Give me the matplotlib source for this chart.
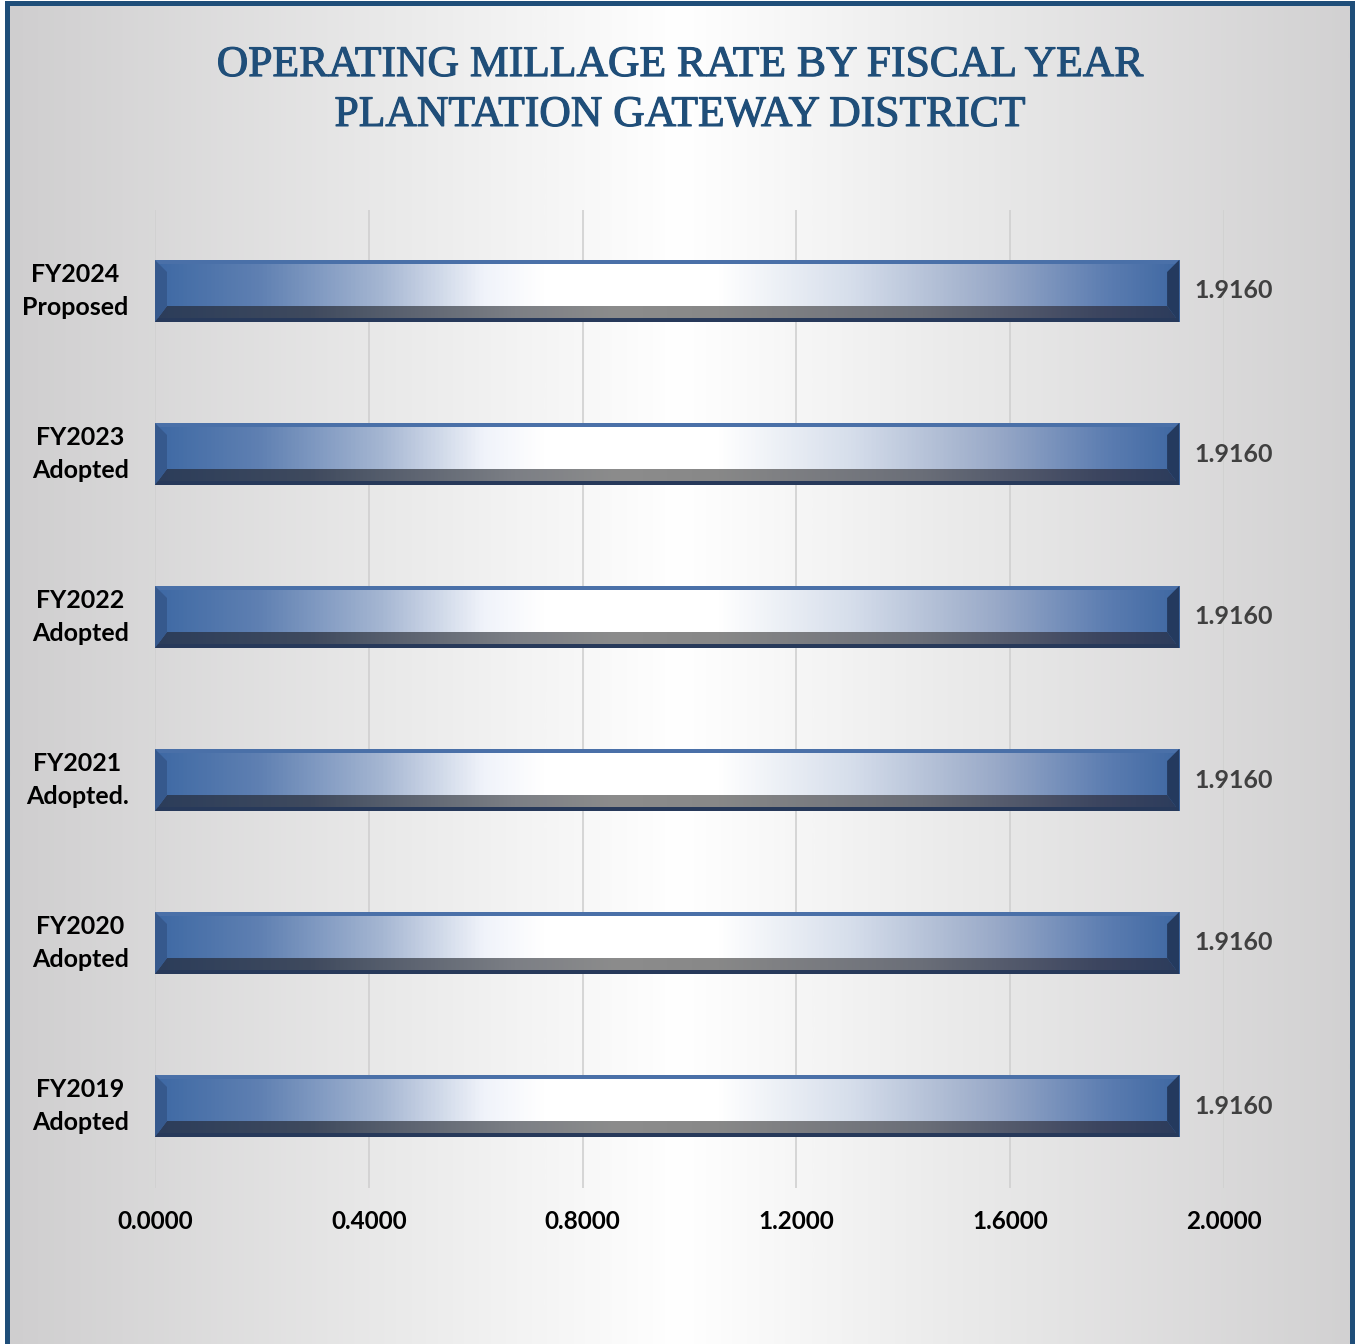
import matplotlib
matplotlib.use("Agg")
import matplotlib.pyplot as plt
import matplotlib.patheffects as pe
import numpy as np
from matplotlib.colors import LinearSegmentedColormap
from matplotlib.patches import Rectangle, Polygon

# data
years = ["FY2019\nAdopted", "FY2020\nAdopted", "FY2021\nAdopted.",
         "FY2022\nAdopted", "FY2023\nAdopted", "FY2024\nProposed"]
rates = [1.9160, 1.9160, 1.9160, 1.9160, 1.9160, 1.9160]
x_ticks = [0.0, 0.4, 0.8, 1.2, 1.6, 2.0]

title = "OPERATING MILLAGE RATE BY FISCAL YEAR\nPLANTATION GATEWAY DISTRICT"
navy = "#1f4e79"
label_font = "Lato"

W, H = 1357, 1344
fig = plt.figure(figsize=(W / 100, H / 100), dpi=100)
fig.patch.set_facecolor("white")

# background with horizontal gray->white->gray gradient
bg = fig.add_axes([0, 0, 1, 1], zorder=-10)
bg_cmap = LinearSegmentedColormap.from_list(
    "bg", [(0, "#cfcecf"), (0.3, "#ebebeb"), (0.5, "#ffffff"),
           (0.7, "#ebebeb"), (1, "#d2d1d2")])
bg.imshow(np.linspace(0, 1, 512)[None, :], cmap=bg_cmap, aspect="auto",
          extent=[7 / W, 1352 / W, 0, 1 - 3 / H])
bg.set_xlim(0, 1)
bg.set_ylim(0, 1)
bg.axis("off")
bg.add_patch(Rectangle((7 / W, -0.01), (1352 - 7) / W, 1.01 - 3 / H,
                       fill=False, edgecolor=navy, linewidth=3.6))

ax = fig.add_axes([155 / W, 1 - 1187.5 / H, (1224 - 155) / W, (1187.5 - 209.5) / H])
ax.patch.set_alpha(0)
ax.set_xlim(0, 2.0)
ax.set_ylim(-0.5, len(years) - 0.5)
for s in ax.spines.values():
    s.set_visible(False)
ax.set_xticks(x_ticks)
ax.set_xticklabels([f"{t:.4f}" for t in x_ticks])
ax.set_yticks(range(len(years)))
ax.set_yticklabels(years, multialignment="center", linespacing=1.5, va="center")
ax.tick_params(axis="both", length=0)
ax.tick_params(axis="x", pad=16)
ax.tick_params(axis="y", pad=19)
for lbl in ax.get_xticklabels():
    lbl.set_fontsize(17.5)
for lbl in ax.get_yticklabels():
    lbl.set_fontsize(18)
for lbl in ax.get_xticklabels() + ax.get_yticklabels():
    lbl.set_fontfamily(label_font)
    lbl.set_fontweight("bold")
    lbl.set_color("black")
for t in x_ticks:
    ax.axvline(t, color="#d0d0d0", linewidth=1.2, zorder=0)

face_cmap = LinearSegmentedColormap.from_list(
    "face", [(0, "#3e69a4"), (0.1, "#5f80b2"), (0.22, "#a5b6d2"), (0.32, "#f0f3fa"),
             (0.38, "#ffffff"), (0.55, "#ffffff"), (0.68, "#d6deeb"),
             (0.82, "#9aaac8"), (0.93, "#5c7db1"), (1, "#3f68a2")])
shade_cmap = LinearSegmentedColormap.from_list(
    "shade", [(0, "#2c3d5a"), (0.15, "#3f4a5e"), (0.35, "#7c7f85"), (0.45, "#8c8c8c"),
              (0.55, "#888888"), (0.75, "#6a6e78"), (0.92, "#3d4660"), (1, "#2c3c5c")])

h = 0.38
bx = 12 / 534.5          # bevel width in data units (x)
by = 12 / 163            # bevel width in data units (y)
edge = 4 / 163
grad = np.linspace(0, 1, 512)[None, :]

bars = ax.barh(range(len(years)), rates, height=h, color="none", zorder=2)
for i, (bar, v) in enumerate(zip(bars, rates)):
    y0, y1 = i - h / 2, i + h / 2
    # front face
    im = ax.imshow(grad, cmap=face_cmap, aspect="auto", extent=[0, v, y0, y1], zorder=2)
    im.set_clip_path(bar)
    # top edge
    ax.add_patch(Rectangle((0, y1 - edge), v, edge, color="#4a70a8", zorder=3, lw=0))
    # bottom bevel
    bot = Polygon([(0, y0), (v, y0), (v - bx, y0 + by + edge), (bx, y0 + by + edge)],
                  closed=True, color="none", zorder=3)
    ax.add_patch(bot)
    im2 = ax.imshow(grad, cmap=shade_cmap, aspect="auto", extent=[0, v, y0, y0 + by + edge], zorder=3)
    im2.set_clip_path(bot)
    ax.add_patch(Rectangle((0, y0), v, edge, color="#27395a", zorder=4, lw=0))
    # left and right bevels
    ax.add_patch(Polygon([(0, y1), (bx, y1 - by), (bx, y0 + by + edge), (0, y0)],
                         closed=True, color="#36598d", zorder=4, lw=0))
    ax.add_patch(Polygon([(v, y1), (v - bx, y1 - by), (v - bx, y0 + by + edge), (v, y0)],
                         closed=True, color="#243a5e", zorder=4, lw=0))
    ax.annotate(f"{v:.4f}", (v, i), xytext=(11, 0), textcoords="offset points",
                va="center", ha="left", fontsize=18, fontweight="bold",
                color="#404040", fontfamily=label_font)

fig.text(680 / W, 1 - 90 / H, title, ha="center", va="center", fontsize=31.4,
         fontfamily="Liberation Serif", color=navy, linespacing=1.32,
         path_effects=[pe.withStroke(linewidth=0.8, foreground=navy)])

fig.savefig("out.png", dpi=100)
